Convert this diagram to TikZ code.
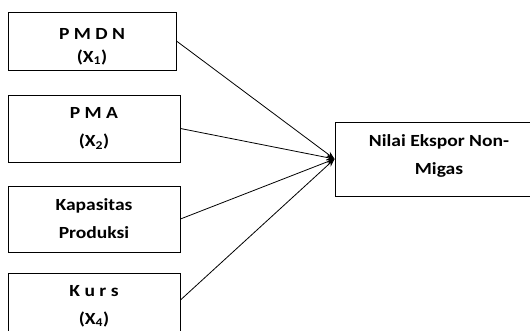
\documentclass[tikz,border=0pt]{standalone}
\usepackage{fontspec}
\setmainfont{Carlito}[FakeStretch=1.15]
\usetikzlibrary{arrows.meta}

\begin{document}
\begin{tikzpicture}[x=1pt,y=-1pt,
	varbox/.style={draw, line width=0.9pt, align=center, inner sep=0pt,
		font=\bfseries\fontsize{17}{28}\selectfont},
	link/.style={line width=0.8pt, -{Stealth[length=8pt,width=6pt]}}]
\useasboundingbox (0,0) rectangle (530,331);
%
\node[varbox, minimum width=168pt, minimum height=58pt, font=\bfseries\fontsize{17}{23}\selectfont] (pmdn) at (92,41) {\rule{0pt}{22pt}P M D N\\(X\textsubscript{1})};
\node[varbox, minimum width=172pt, minimum height=67pt] (pma) at (94,128.5) {P M A\\(X\textsubscript{2})};
\node[varbox, minimum width=172pt, minimum height=66pt] (kap) at (94,219) {Kapasitas\\Produksi};
\node[varbox, minimum width=172pt, minimum height=66pt] (kurs) at (94,306) {K u r s\\(X\textsubscript{4})};
%
\node[varbox, minimum width=208pt, minimum height=74pt] (ekspor) at (439,159) {Nilai Ekspor Non-\\Migas\rule[-9pt]{0pt}{0pt}};
%
\draw[link] (pmdn.east) -- (ekspor.west);
\draw[link] (pma.east) -- (ekspor.west);
\draw[link] (kap.east) -- (ekspor.west);
\draw[link] ([yshift=6pt]kurs.east) -- (ekspor.west);
\end{tikzpicture}
\end{document}
